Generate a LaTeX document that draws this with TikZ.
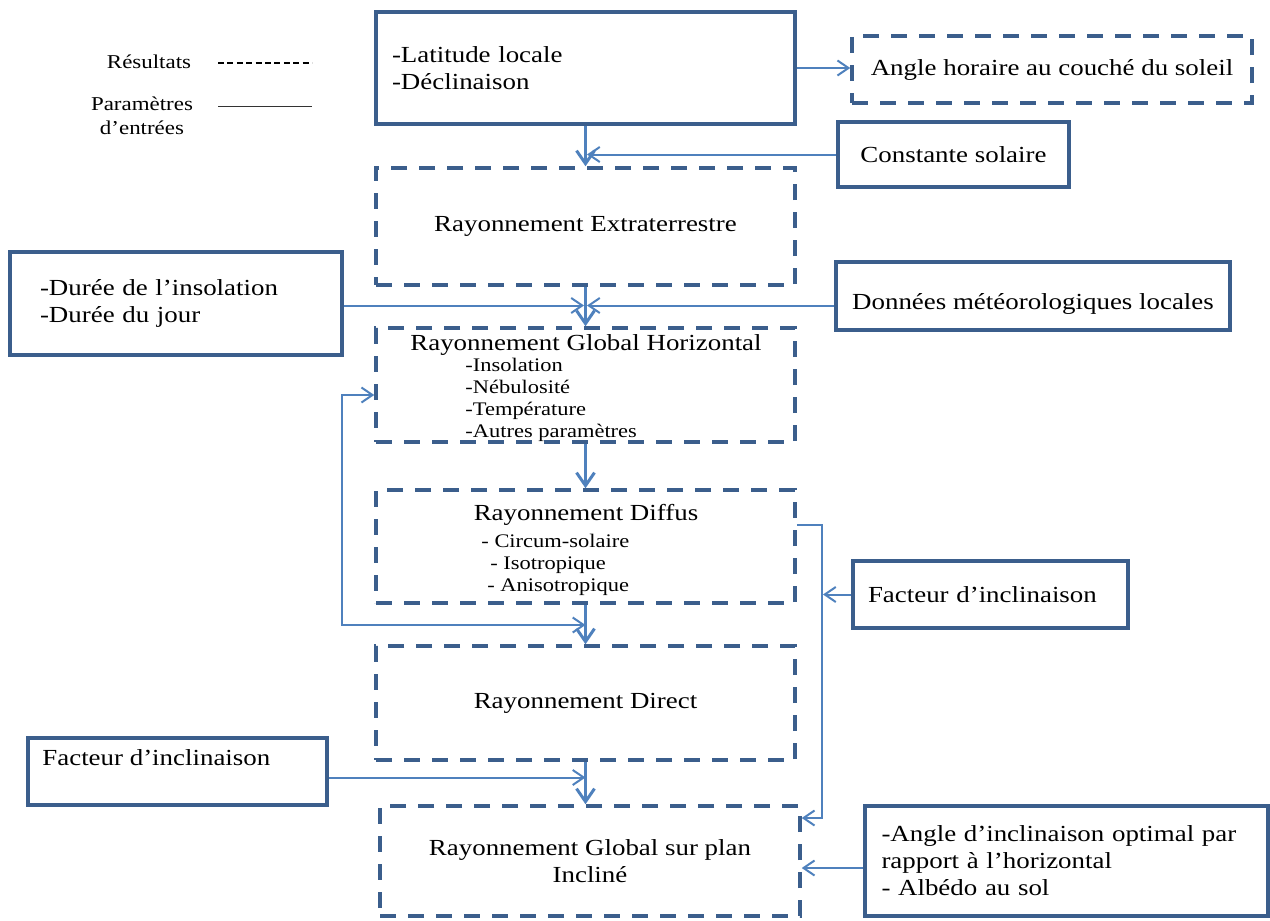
\documentclass[tikz,border=0pt]{standalone}
\usepackage{fontspec}
\setmainfont[FakeStretch=1.17]{Liberation Serif}
\usetikzlibrary{arrows.meta,positioning}
\definecolor{boxblue}{RGB}{59,94,140}
\definecolor{arrowblue}{RGB}{79,129,189}
\tikzset{
    parbox/.style={draw=boxblue,line width=1.75pt,rectangle,inner sep=0pt,font=\fontsize{11.5}{13.5}\selectfont},
    resbox/.style={parbox,dash pattern=on 8pt off 6pt},
    maintxt/.style={font=\fontsize{11.5}{13.5}\selectfont,inner sep=0pt},
    subtxt/.style={font=\fontsize{9.6}{11}\selectfont,align=left,inner sep=0pt},
    legtxt/.style={font=\fontsize{9.8}{12}\selectfont,inner sep=0pt},
    flow/.style={draw=arrowblue,line width=1.5pt,-{Straight Barb[length=6.5pt,width=9pt]}},
    feed/.style={draw=arrowblue,line width=1pt,-{Straight Barb[length=5.5pt,width=7.5pt]}},
    feedboth/.style={draw=arrowblue,line width=1pt,{Straight Barb[length=5.5pt,width=7.5pt]}-{Straight Barb[length=5.5pt,width=7.5pt]}}
}
\begin{document}
\begin{tikzpicture}[line cap=butt,line join=miter,x=0.5pt,y=-0.5pt]
    \useasboundingbox (0,0) rectangle (1270,921);
    % legende
    \node[legtxt] (res) at (149,62) {Résultats};
    \coordinate (resa) at (218,63);
    \coordinate (resb) at (312,63);
    \draw[black,line width=1.2pt,dash pattern=on 3pt off 1.7pt] (resa) -- (resb);
    \node[legtxt,align=center] (par) at (142,116) {Paramètres\\d’entrées};
    \coordinate (para) at (218,106);
    \coordinate (parb) at (312,106);
    \draw[black!80,line width=0.5pt] (para) -- (parb);
    % boites
    \node[parbox,minimum width=209.5pt,minimum height=56pt,text width=193.5pt,inner xsep=8pt,align=left] (lat) at (585.5,68) {-Latitude locale\\-Déclinaison};
    \node[resbox,minimum width=200pt,minimum height=33.5pt] (ang) at (1052,69.5) {Angle horaire au couché du soleil};
    \node[parbox,minimum width=115.5pt,minimum height=32.5pt] (cst) at (953.5,154.5) {Constante solaire};
    \node[resbox,minimum width=209.5pt,minimum height=58.5pt] (ext) at (585.5,226.5) {Rayonnement Extraterrestre};
    \node[parbox,minimum width=166pt,minimum height=51.5pt,text width=136pt,inner xsep=15pt,align=left] (dur) at (176,303.5) {-Durée de l’insolation\\-Durée du jour};
    \node[parbox,minimum width=197pt,minimum height=34pt,text height=15.5pt,text depth=2.5pt] (met) at (1033,296) {Données météorologiques locales};
    \node[resbox,minimum width=209.5pt,minimum height=57pt] (gh) at (585.5,385) {};
    \node[maintxt] (ghtitle) at (586,345) {Rayonnement Global Horizontal};
    \node[subtxt,anchor=west] (ghlist) at (465,400) {-Insolation\\-Nébulosité\\-Température\\-Autres paramètres};
    \node[resbox,minimum width=209.5pt,minimum height=56.5pt] (dif) at (585.5,546.5) {};
    \node[maintxt] (diftitle) at (586,515) {Rayonnement Diffus};
    \node[subtxt,anchor=west] (diflist) at (481,565) {- Circum-solaire\\\hspace{4.5pt}- Isotropique\\\hspace{3pt}- Anisotropique};
    \node[parbox,minimum width=137.5pt,minimum height=33.5pt,text width=122.5pt,inner xsep=7.5pt,align=left] (fr) at (990.5,594.5) {Facteur d’inclinaison};
    \node[resbox,minimum width=209.5pt,minimum height=57pt] (dir) at (585.5,703) {Rayonnement Direct};
    \node[parbox,minimum width=149.5pt,minimum height=33.5pt] (fl) at (177.5,771.5) {};
    \node[maintxt,anchor=west] (fltxt) at (42,758) {Facteur d’inclinaison};
    \node[resbox,minimum width=210pt,minimum height=55pt,align=center] (inc) at (590,861) {Rayonnement Global sur plan\\Incliné};
    \node[parbox,minimum width=201.5pt,minimum height=55pt,text width=185pt,inner xsep=8.25pt,align=left] (ang2) at (1066.5,861) {-Angle d’inclinaison optimal par\\rapport à l’horizontal\\- Albédo au sol};
    % points de passage
    \coordinate (loopt) at (342,395);
    \coordinate (loopb) at (342,625);
    \coordinate (rise) at (822,525);
    \coordinate (drop) at (822,818);
    % fleches
    \draw[feed] (lat.east) -- (lat.east -| ang.west);
    \draw[flow] (lat.south) -- (ext.north);
    \draw[feed] (cst.west) -- ([xshift=0.75pt]cst.west -| lat.south);
    \draw[flow] (ext.south) -- (gh.north);
    \draw[feed] ([yshift=-1pt]dur.east) -- ([xshift=-0.75pt,yshift=-1pt]dur.east -| ext.south);
    \draw[feed] ([yshift=-1pt]met.west |- dur.east) -- ([xshift=0.75pt,yshift=-1pt]dur.east -| ext.south);
    \draw[flow] (gh.south) -- (dif.north);
    \draw[feedboth] (gh.west |- loopt) -- (loopt) -- (loopb) -- (loopb -| dif.south);
    \draw[flow] (dif.south) -- (dir.north);
    \draw[feed] (dif.east |- rise) -- (rise) -- (drop) -- (drop -| inc.east);
    \draw[feed] (fr.west) -- ([xshift=0.5pt]fr.west -| rise);
    \draw[flow] (dir.south) -- (dir.south |- inc.north);
    \draw[feed] ([yshift=-3pt]fl.east) -- ([yshift=-3pt]fl.east -| dir.south);
    \draw[feed] ([yshift=-3.5pt]ang2.west) -- ([yshift=-3.5pt]ang2.west -| inc.east);
\end{tikzpicture}
\end{document}
